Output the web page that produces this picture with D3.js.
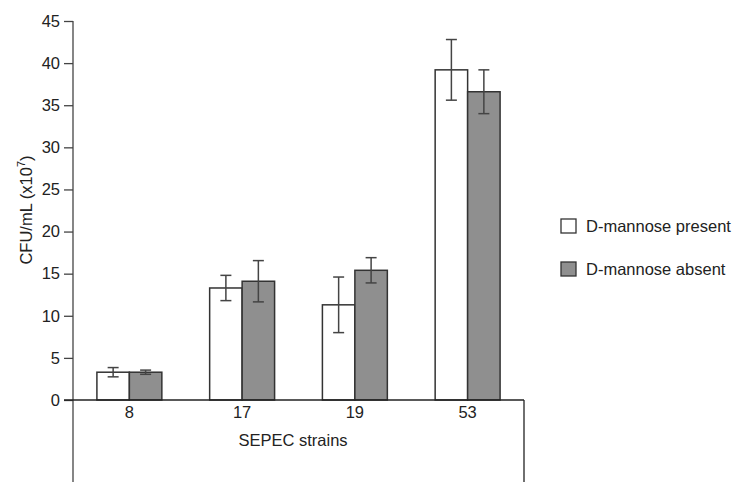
<!DOCTYPE html>
<html>
<head>
<meta charset="utf-8">
<script src="https://cdn.jsdelivr.net/npm/d3@7"></script>
<style>
  body { margin: 0; background: #fff; }
  svg { display: block; font-family: "Liberation Sans", Arial, sans-serif; }
</style>
</head>
<body>
<svg id="chart" width="754" height="500"></svg>
<script>
// Chart data
const strains = ["8", "17", "19", "53"];
const seriesNames = ["D-mannose present", "D-mannose absent"];
const presentValues = [3.3, 13.3, 11.3, 39.2];
const presentErrors = [0.55, 1.5, 3.3, 3.6];
const absentValues = [3.3, 14.1, 15.4, 36.6];
const absentErrors = [0.25, 2.45, 1.5, 2.6];
const yTicks = [0, 5, 10, 15, 20, 25, 30, 35, 40, 45];

const svg = d3.select("#chart");
const textColor = "#222";
const lineColor = "#444";
const fills = ["#ffffff", "#8f8f8f"];
const fontSize = "16.5px";

// Plot area
const plotLeft = 73, plotRight = 524, plotTop = 21, plotBase = 400, plotBottom = 482;

const x0 = d3.scaleBand()
    .domain(strains)
    .range([plotLeft, plotRight])
    .paddingInner(0.424)
    .paddingOuter(0.212);

const x1 = d3.scaleBand()
    .domain(seriesNames)
    .range([0, x0.bandwidth()]);

const y = d3.scaleLinear()
    .domain([0, 45])
    .range([plotBase, plotTop]);

// Build rows for drawing
const rows = [];
strains.forEach((s, i) => {
    rows.push({ strain: s, series: seriesNames[0], value: presentValues[i], err: presentErrors[i] });
    rows.push({ strain: s, series: seriesNames[1], value: absentValues[i], err: absentErrors[i] });
});

// Y axis
const yAxis = d3.axisLeft(y)
    .tickValues(yTicks)
    .tickSize(9)
    .tickPadding(4);

const yg = svg.append("g")
    .attr("transform", `translate(${plotLeft},0)`)
    .call(yAxis);
yg.select(".domain").remove();
yg.selectAll(".tick line").attr("stroke", lineColor).attr("stroke-width", 1.3);
yg.selectAll(".tick text")
    .attr("fill", textColor)
    .attr("font-size", fontSize)
    .attr("font-family", "Liberation Sans, Arial, sans-serif");

// Frame lines: y axis going down below baseline, right edge
svg.append("line")
    .attr("x1", plotLeft).attr("x2", plotLeft)
    .attr("y1", y(45)).attr("y2", plotBottom)
    .attr("stroke", lineColor).attr("stroke-width", 1.3);

svg.append("line")
    .attr("x1", plotRight).attr("x2", plotRight)
    .attr("y1", plotBase).attr("y2", plotBottom)
    .attr("stroke", "#222").attr("stroke-width", 1.3);

// Bars
svg.append("g")
    .selectAll("rect")
    .data(rows)
    .join("rect")
    .attr("x", d => x0(d.strain) + x1(d.series))
    .attr("y", d => y(d.value))
    .attr("width", x1.bandwidth())
    .attr("height", d => y(0) - y(d.value))
    .attr("fill", d => fills[seriesNames.indexOf(d.series)])
    .attr("stroke", "#333")
    .attr("stroke-width", 1.5);

// Baseline drawn over bars
svg.append("line")
    .attr("x1", plotLeft - 9).attr("x2", plotRight)
    .attr("y1", plotBase).attr("y2", plotBase)
    .attr("stroke", "#222").attr("stroke-width", 1.5);

// Error bars
const capW = 11;
const eb = svg.append("g")
    .selectAll("g")
    .data(rows)
    .join("g")
    .attr("stroke", lineColor)
    .attr("stroke-width", 1.5);

eb.append("line")
    .attr("x1", d => x0(d.strain) + x1(d.series) + x1.bandwidth() / 2)
    .attr("x2", d => x0(d.strain) + x1(d.series) + x1.bandwidth() / 2)
    .attr("y1", d => y(d.value + d.err))
    .attr("y2", d => y(d.value - d.err));

[1, -1].forEach(sign => {
    eb.append("line")
        .attr("x1", d => x0(d.strain) + x1(d.series) + x1.bandwidth() / 2 - capW / 2)
        .attr("x2", d => x0(d.strain) + x1(d.series) + x1.bandwidth() / 2 + capW / 2)
        .attr("y1", d => y(d.value + sign * d.err))
        .attr("y2", d => y(d.value + sign * d.err));
});

// Category labels
svg.append("g")
    .selectAll("text")
    .data(strains)
    .join("text")
    .attr("x", d => x0(d) + x0.bandwidth() / 2)
    .attr("y", 418)
    .attr("text-anchor", "middle")
    .attr("fill", textColor)
    .attr("font-size", fontSize)
    .text(d => d);

// Axis titles
svg.append("text")
    .attr("x", 293)
    .attr("y", 446)
    .attr("text-anchor", "middle")
    .attr("fill", textColor)
    .attr("font-size", fontSize)
    .text("SEPEC strains");

const yTitle = svg.append("text")
    .attr("transform", "translate(32,210) rotate(-90)")
    .attr("text-anchor", "middle")
    .attr("fill", textColor)
    .attr("font-size", fontSize);
yTitle.append("tspan").text("CFU/mL (x10");
yTitle.append("tspan").attr("font-size", "11px").attr("dy", "-7").text("7");
yTitle.append("tspan").attr("dy", "7").text(")");

// Legend
const legend = svg.append("g")
    .selectAll("g")
    .data(seriesNames)
    .join("g")
    .attr("transform", (d, i) => `translate(561,${219 + i * 43})`);

legend.append("rect")
    .attr("width", 15)
    .attr("height", 14)
    .attr("fill", (d, i) => fills[i])
    .attr("stroke", "#333")
    .attr("stroke-width", 1.3);

legend.append("text")
    .attr("x", 25)
    .attr("y", 13)
    .attr("fill", textColor)
    .attr("font-size", fontSize)
    .text(d => d);
</script>
</body>
</html>
